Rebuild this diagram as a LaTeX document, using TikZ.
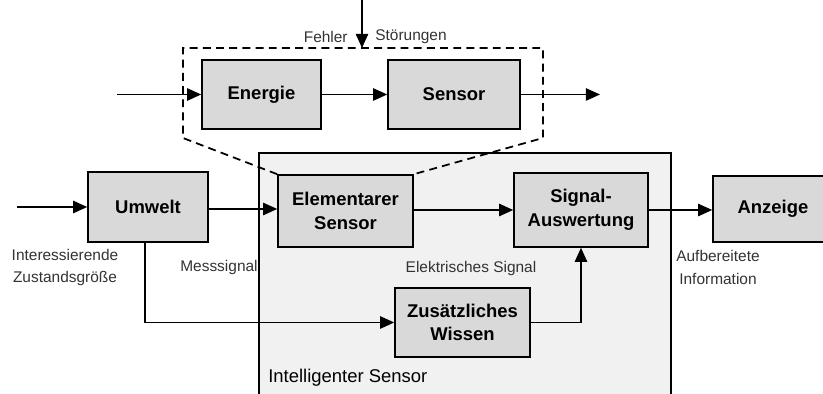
\documentclass[tikz,border=0pt]{standalone}
\usepackage{fontspec}
\setmainfont{Liberation Sans}
\usetikzlibrary{arrows.meta}
\definecolor{boxfill}{HTML}{D9D9D9}
\definecolor{intfill}{HTML}{F1F1F1}
\definecolor{lbl}{HTML}{333333}
\begin{document}
\begin{tikzpicture}[x=0.02cm,y=-0.02cm,
  blk/.style={draw=black, line width=0.9pt, fill=boxfill, inner sep=0pt, align=center,
    font=\bfseries\fontsize{10.5}{13.5}\selectfont},
  lab/.style={text=lbl, inner sep=0pt, align=center, font=\fontsize{8.8}{13}\selectfont},
  arr/.style={line width=0.9pt, -{Triangle[length=8pt,width=7pt]}},
  dsh/.style={line width=1pt, dash pattern=on 4.5pt off 3pt}
]
\useasboundingbox (0,0) rectangle (823,394);
\clip (0,0) rectangle (823,394);
% intelligent sensor frame
\node (intel) [draw=black, line width=0.9pt, fill=intfill, inner sep=0pt,
  minimum width=8.24cm, minimum height=5.14cm] at (465,281.5) {};
\node (intlab) [anchor=west, inner sep=0pt, font=\fontsize{10.5}{13}\selectfont] at (268,378) {Intelligenter Sensor};
% blocks
\node (energie) [blk, minimum width=2.38cm, minimum height=1.38cm] at (261.5,94.5) {Energie};
\node (sensor)  [blk, minimum width=2.64cm, minimum height=1.38cm] at (454,94.5) {Sensor};
\node (umwelt)  [blk, minimum width=2.4cm, minimum height=1.4cm] at (148,207) {Umwelt};
\node (elem)    [blk, minimum width=2.7cm, minimum height=1.44cm] at (345.5,211) {Elementarer\\Sensor};
\node (sig)     [blk, minimum width=2.68cm, minimum height=1.48cm] at (581,210) {Signal-\\Auswertung};
\node (anz)     [blk, minimum width=2.4cm, minimum height=1.32cm] at (773,209) {Anzeige};
\node (zus)     [blk, minimum width=2.7cm, minimum height=1.38cm] at (462.5,322.5) {Zusätzliches\\Wissen};
% labels
\node (fehler) [lab, anchor=east] at (348,37) {Fehler};
\node (stoer)  [lab, anchor=west] at (375,37) {Störungen};
\node (inter)  [lab] at (65,267.5) {Interessierende\\Zustandsgröße};
\node (mess)   [lab, anchor=east] at (258,268) {Messsignal};
\node (elek)   [lab] at (471,269) {Elektrisches Signal};
\node (aufb)   [lab] at (718,267.5) {Aufbereitete\\Information};
% coordinates
\coordinate (top) at (362,0);
\coordinate (topend) at (362,48);
\coordinate (ein) at (117,94.5);
\coordinate (aus) at (600,94.5);
\coordinate (uin) at (17,207);
\coordinate (d1) at (183,138);
\coordinate (d2) at (183,48);
\coordinate (d3) at (543,48);
\coordinate (d4) at (543,138);
% dashed outline
\draw[dsh] (elem.north west) -- (d1) -- (d2) -- (d3) -- (d4) -- (elem.north east);
% arrows
\draw[arr] (top) -- (topend);
\draw[arr] (ein) -- (energie.west);
\draw[arr] (energie.east) -- (sensor.west);
\draw[arr] (sensor.east) -- (aus);
\draw[arr] (uin) -- (umwelt.west);
\draw[arr] ([yshift=-0.04cm]umwelt.east) -- ([yshift=-0.04cm]umwelt.east -| elem.west);
\draw[arr] (elem.east |- sig.west) -- (sig.west);
\draw[arr] (sig.east) -- (sig.east -| anz.west);
\draw[arr] ([xshift=-0.06cm]umwelt.south) |- (zus.west);
\draw[arr] (zus.east) -| (sig.south);
\end{tikzpicture}
\end{document}
